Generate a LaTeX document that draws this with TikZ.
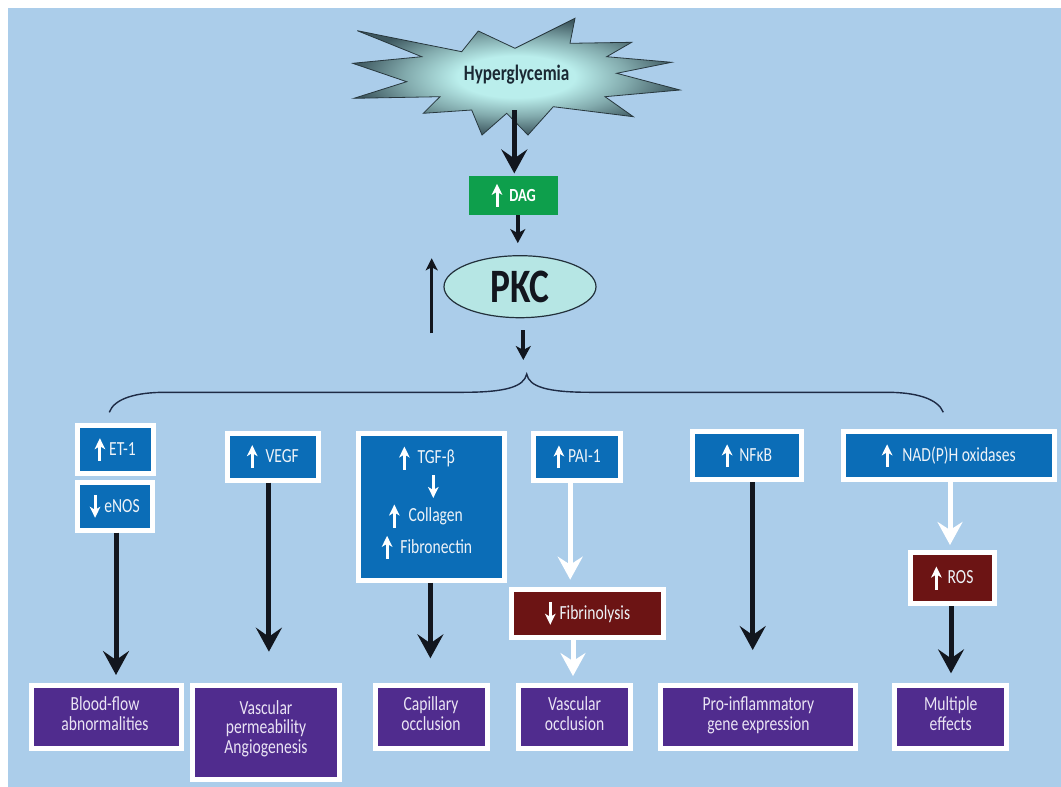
\documentclass[tikz,border=0pt]{standalone}
\usepackage{fontspec}
\setmainfont{Carlito}[FakeStretch=0.78]
\usetikzlibrary{arrows.meta,shapes.geometric}
\definecolor{bgblue}{RGB}{171,205,234}
\definecolor{boxblue}{RGB}{11,109,183}
\definecolor{boxpurple}{RGB}{80,44,142}
\definecolor{boxred}{RGB}{108,20,20}
\definecolor{daggreen}{RGB}{14,159,76}
\definecolor{arrowblack}{RGB}{18,22,30}
\definecolor{pkcfill}{RGB}{182,230,228}
\definecolor{pkcline}{RGB}{34,48,58}
\definecolor{starin}{RGB}{186,238,236}
\definecolor{starout}{RGB}{62,88,96}
\definecolor{starline}{RGB}{40,56,62}
\definecolor{hyptext}{RGB}{26,40,51}
\definecolor{bracecol}{RGB}{30,43,69}
\definecolor{boxtext}{RGB}{238,243,248}
\definecolor{ptextcol}{RGB}{234,228,244}
\pgfdeclareradialshading{starshade}{\pgfpoint{0bp}{0bp}}{color(0bp)=(starin); color(9bp)=(starin); color(17bp)=(starin!55!starout); color(25bp)=(starout); color(50bp)=(starout)}
\newcommand\upar{\tikz[baseline=0pt,x=1pt,y=1pt]\draw[white,line width=3pt,-{Stealth[length=11pt,width=10.5pt,inset=3pt]}](0,-5.7)--(0,17.3);}
\newcommand\dnar{\tikz[baseline=0pt,x=1pt,y=1pt]\draw[white,line width=3pt,-{Stealth[length=11pt,width=10.5pt,inset=3pt]}](0,17.3)--(0,-5.7);}
\begin{document}
\begin{tikzpicture}[x=1pt,y=-1pt,
  bluebox/.style={draw=white,line width=5pt,fill=boxblue,text=boxtext,inner sep=0pt,font=\fontsize{20}{21}\selectfont},
  redbox/.style={draw=white,line width=5pt,fill=boxred,text=boxtext,inner sep=0pt,font=\fontsize{20}{21}\selectfont},
  purplebox/.style={draw=white,line width=5pt,fill=boxpurple,inner sep=0pt},
  btext/.style={text=boxtext,inner sep=0pt,font=\fontsize{20}{21}\selectfont},
  ptext/.style={text=ptextcol,align=center,inner sep=0pt,font=\fontsize{20}{19.5}\selectfont},
  bigarrow/.style={draw=arrowblack,line width=5pt,-{Stealth[length=24pt,width=26pt,inset=9pt]}},
  whitearrow/.style={draw=white,line width=5pt,-{Stealth[length=23pt,width=25pt,inset=8pt]}},
  smallarrow/.style={draw=arrowblack,line width=4pt,-{Stealth[length=14pt,width=15pt,inset=4pt]}},
  thinarrow/.style={draw=arrowblack,line width=2.5pt,-{Stealth[length=12pt,width=12pt,inset=3pt]}}
]
\useasboundingbox (0,0) rectangle (1061,787);
\fill[white] (0,0) rectangle (1061,787);
\fill[bgblue] (8,8) rectangle (1061,787);

% starburst
\shadedraw[shading=starshade,draw=starline,line width=0.8pt]
 (357.3,30.7) -- (461.7,51.7) -- (478.3,31) -- (515,48.3) -- (575,18.3) -- (570,43.3)
 -- (631.7,42.3) -- (606.7,56.7) -- (671.7,62.3) -- (616.7,73.3) -- (680,90)
 -- (605,96.7) -- (633.3,116.7) -- (553.3,106.7) -- (528,135) -- (506.7,113.3)
 -- (482,135) -- (471.7,110) -- (423.3,113.3) -- (440,96.7) -- (354,98.3)
 -- (406.7,81.7) -- (352.7,63.3) -- (421.7,56.7) -- cycle;
\node[font=\bfseries\fontsize{22}{24}\selectfont,text=hyptext,inner sep=0pt] (hyp) at (516.7,75) {Hyperglycemia};

% DAG and PKC
\node[fill=daggreen,minimum width=89pt,minimum height=39.3pt,inner sep=0pt,text=white,font=\bfseries\fontsize{18.5}{20}\selectfont] (dag) at (513.8,195.3) {\upar\hspace{7pt}DAG};
\node[ellipse,draw=pkcline,line width=1.2pt,fill=pkcfill,minimum width=152pt,minimum height=62pt,inner sep=0pt,text=arrowblack,font=\bfseries\fontsize{48}{52}\selectfont] (pkc) at (520,286.7) {PKC};

\coordinate (hypbot) at (514.3,110);
\draw[bigarrow,shorten >=2pt] (hypbot) -- (hypbot |- dag.north);
\draw[smallarrow,shorten >=12pt] ([xshift=4pt]dag.south) -- ([xshift=4pt]dag.south |- pkc.north);

\coordinate (upA) at (431.7,333.3);
\coordinate (upB) at (431.7,258.3);
\draw[thinarrow] (upA) -- (upB);

\coordinate (bracetip) at (526.7,374);
\coordinate (pkcout) at (523.3,330);
\draw[smallarrow,shorten >=14pt] (pkcout) -- (pkcout |- bracetip);

% brace
\draw[bracecol,line width=1.4pt] (109.3,412.3) .. controls (114,399) and (135,392.3) .. (165,392.3)
 -- (463,392.3) .. controls (505,392.3) and (524,387) .. (bracetip)
 .. controls (529,387) and (548,392.3) .. (590,392.3) -- (887,392.3)
 .. controls (917,392.3) and (938,399) .. (943.3,412.3);

% upper boxes
\node[bluebox,minimum width=76.5pt,minimum height=47.7pt] (et1) at (115.25,449.7) {\upar\hspace{4pt}ET-1};
\node[bluebox,minimum width=75.5pt,minimum height=47.7pt] (enos) at (114.75,506.3) {\dnar\hspace{4pt}eNOS};
\node[bluebox,minimum width=91.7pt,minimum height=47.2pt] (vegf) at (272.9,456.6) {\upar\hspace{8pt}VEGF};
\node[bluebox,minimum width=146.5pt,minimum height=146.7pt] (tgf) at (431.4,506.9) {};
\node[btext] (tgf1) at (427,458) {\upar\hspace{8pt}TGF-β};
\node[btext] (tgf2) at (433.3,486.5) {\dnar};
\node[btext] (tgf3) at (426,516) {\upar\hspace{9pt}Collagen};
\node[btext] (tgf4) at (427,547.3) {\upar\hspace{8pt}Fibronectin};
\node[bluebox,minimum width=86.7pt,minimum height=47.8pt] (pai) at (577.2,456.9) {\upar\hspace{4pt}PAI-1};
\node[redbox,minimum width=151.8pt,minimum height=48.3pt] (fib) at (587.6,613.3) {\dnar\hspace{4pt}Fibrinolysis};
\node[bluebox,minimum width=109pt,minimum height=48pt] (nfkb) at (747,455.8) {\upar\hspace{7pt}NFκB};
\node[bluebox,minimum width=210.5pt,minimum height=48pt] (nad) at (948.75,455.8) {\upar\hspace{10pt}NAD(P)H oxidases};
\node[redbox,minimum width=83.7pt,minimum height=51pt] (ros) at (952.3,578) {\upar\hspace{6pt}ROS};

% outcome boxes
\node[purplebox,minimum width=150.5pt,minimum height=62.4pt] (bf) at (106.5,717) {};
\node[purplebox,minimum width=147pt,minimum height=93.4pt] (vp) at (266,732.5) {};
\node[purplebox,minimum width=112pt,minimum height=62.4pt] (cap) at (431,717) {};
\node[purplebox,minimum width=112.2pt,minimum height=62.7pt] (vo) at (574.6,717.2) {};
\node[purplebox,minimum width=195pt,minimum height=62.7pt] (pi) at (758.4,717.2) {};
\node[purplebox,minimum width=111.6pt,minimum height=62.7pt] (me) at (950.7,717.2) {};
\node[ptext] (bf-t) at (105,713.5) {Blood-flow\\abnormalities};
\node[ptext] (vp-t) at (266,728.5) {Vascular\\permeability\\Angiogenesis};
\node[ptext] (cap-t) at (431,713.5) {Capillary\\occlusion};
\node[ptext] (vo-t) at (574.6,713.5) {Vascular\\occlusion};
\node[ptext] (pi-t) at (758.4,715.5) {Pro-inflammatory\\gene expression};
\node[ptext] (me-t) at (950.7,713.5) {Multiple\\effects};

% connectors
\draw[bigarrow,shorten >=8.3pt] ([xshift=1.25pt]enos.south) -- ([xshift=1.25pt]enos.south |- bf.north);
\draw[bigarrow,shorten >=31.6pt] ([xshift=-4pt]vegf.south) -- ([xshift=-4pt]vegf.south |- vp.north);
\draw[bigarrow,shorten >=25pt] ([xshift=-1pt]tgf.south) -- ([xshift=-1pt]tgf.south |- cap.north);
\draw[whitearrow,shorten >=7pt] ([xshift=-7pt]pai.south) -- ([xshift=-7pt]pai.south |- fib.north);
\draw[whitearrow,shorten >=7.3pt] ([xshift=-14.6pt]fib.south) -- ([xshift=-14.6pt]fib.south |- vo.north);
\draw[bigarrow,shorten >=33.3pt] ([xshift=5.7pt]nfkb.south) -- ([xshift=5.7pt]nfkb.south |- pi.north);
\draw[whitearrow,shorten >=5pt] ([xshift=1.25pt]nad.south) -- ([xshift=1.25pt]nad.south |- ros.north);
\draw[bigarrow,shorten >=10pt] ([xshift=-1.3pt]ros.south) -- ([xshift=-1.3pt]ros.south |- me.north);
\end{tikzpicture}
\end{document}
